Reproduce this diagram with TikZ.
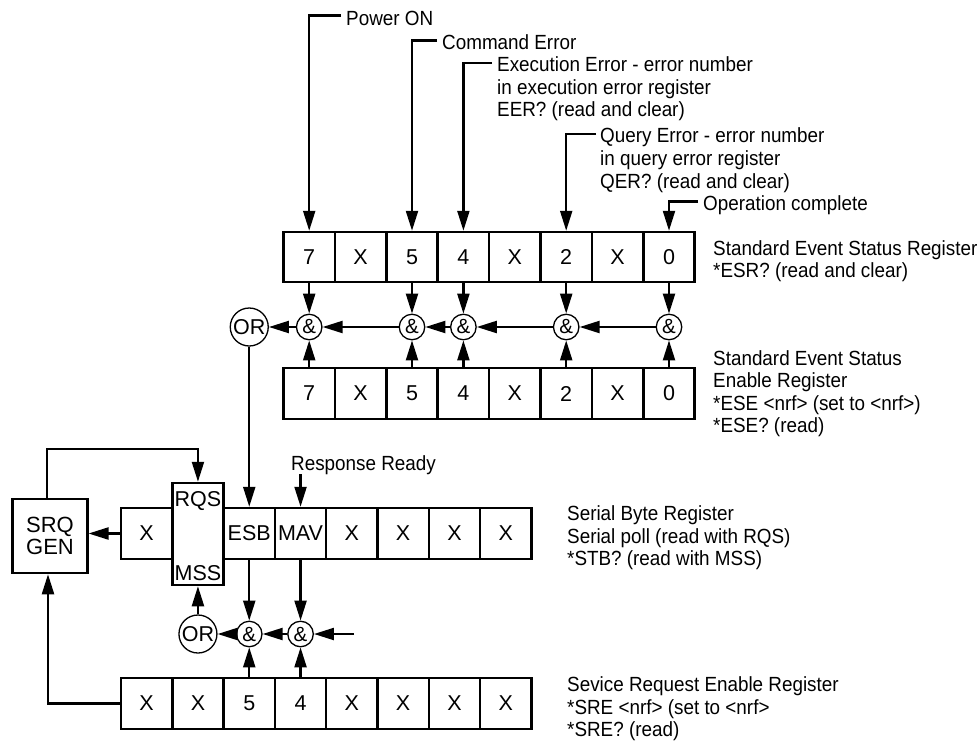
\documentclass[tikz,border=0pt]{standalone}
\usepackage{fontspec}
\setmainfont{Liberation Sans}
\newfontfamily\lblfont[FakeStretch=0.92]{Liberation Sans}
\usetikzlibrary{arrows.meta,calc}
\begin{document}
\begin{tikzpicture}[x=1pt,y=-1pt,
  cell/.style={draw, line width=2.5pt, minimum width=51.4pt, minimum height=51pt, inner sep=0pt, font=\fontsize{21.5}{22}\selectfont},
  scell/.style={cell, minimum width=51.3pt},
  tallbox/.style={draw, line width=2.5pt, minimum width=51.3pt, minimum height=102pt, inner sep=0pt},
  boxtxt/.style={inner sep=0pt, font=\fontsize{21.5}{22}\selectfont},
  gate/.style={draw, circle, line width=1.3pt, minimum size=25.5pt, inner sep=0pt, font=\fontsize{20.5}{20}\selectfont},
  orgate/.style={draw, circle, line width=1.3pt, minimum size=38pt, inner sep=0pt, font=\fontsize{21.5}{22}\selectfont},
  srqbox/.style={draw, line width=2.5pt, minimum width=74.6pt, minimum height=74pt, inner sep=0pt, align=center, font=\fontsize{22}{22}\selectfont},
  arr/.style={line width=2.2pt, -{Triangle[length=20pt,width=12pt]}},
  lbl/.style={anchor=base west, inner sep=0pt, font=\lblfont\fontsize{20.5}{22.5}\selectfont},
]
\useasboundingbox (0,0) rectangle (980,742);

% Standard Event Status Register
\foreach \t [count=\i from 0] in {7,X,5,4,X,2,X,0}
  \node[cell, minimum height=50pt] (e\i) at ({309.2+\i*51.4},257) {\t};
% Standard Event Status Enable Register
\foreach \t [count=\i from 0] in {7,X,5,4,X,2,X,0}
  \node[cell] (n\i) at ({309.2+\i*51.4},393.5) {\t};
% AND gates (upper)
\foreach \i in {0,2,3,5,7}
  \node[gate] (a\i) at ({309.2+\i*51.4},327) {\&};
\node[orgate] (or1) at (249.25,327) {OR};

% Serial Byte Register
\node[scell] (s0) at (146.65,533.5) {X};
\node[tallbox] (rqs) at (197.95,534) {};
\node[boxtxt, anchor=base] at ([yshift=-25pt]rqs.north) {RQS};
\node[boxtxt, anchor=base] at ([yshift=6pt]rqs.south) {MSS};
\node[scell] (esb) at (249.25,533.5) {ESB};
\node[scell] (mav) at (300.55,533.5) {MAV};
\foreach \i in {4,5,6,7}
  \node[scell] (s\i) at ({146.65+\i*51.3},533.5) {X};

% Service Request Enable Register
\foreach \t [count=\i from 0] in {X,X,5,4,X,X,X,X}
  \node[scell] (r\i) at ({146.65+\i*51.3},703.5) {\t};

% lower gates
\node[gate] (b2) at (249.25,634) {\&};
\node[gate] (b3) at (300.55,634) {\&};
\node[orgate] (or2) at (197.95,634) {OR};

% SRQ GEN
\node[srqbox] (srq) at (50,536) {SRQ\\GEN};

% top labels
\node[lbl] (pw) at (346,25) {Power ON};
\node[lbl] (ce) at (442,49) {Command Error};
\node[lbl] (ee1) at (497,71.7) {Execution Error - error number};
\node[lbl] (ee2) at (497,94.3) {in execution error register};
\node[lbl] (ee3) at (497,116.7) {EER? (read and clear)};
\node[lbl] (qe1) at (600,142.7) {Query Error - error number};
\node[lbl] (qe2) at (600,165.3) {in query error register};
\node[lbl] (qe3) at (600,188) {QER? (read and clear)};
\node[lbl] (oc) at (703,210) {Operation complete};

% right labels
\node[lbl] (esr1) at (713,255) {Standard Event Status Register};
\node[lbl] (esr2) at (713,277.5) {*ESR? (read and clear)};
\node[lbl] (ese1) at (713,365.5) {Standard Event Status};
\node[lbl] (ese2) at (713,387.8) {Enable Register};
\node[lbl] (ese3) at (713,410) {*ESE <nrf> (set to <nrf>)};
\node[lbl] (ese4) at (713,432.3) {*ESE? (read)};
\node[lbl] (sb1) at (567,520.7) {Serial Byte Register};
\node[lbl] (sb2) at (567,543.2) {Serial poll (read with RQS)};
\node[lbl] (sb3) at (567,565.7) {*STB? (read with MSS)};
\node[lbl] (sr1) at (567,691.7) {Sevice Request Enable Register};
\node[lbl] (sr2) at (567,714.2) {*SRE <nrf> (set to <nrf>};
\node[lbl] (sr3) at (567,736.5) {*SRE? (read)};
\node[lbl] (rr) at (291,470) {Response Ready};

% top connectors
\draw[arr] ([xshift=-5pt,yshift=9.5pt]pw.base west) -| (e0.north);
\draw[arr] ([xshift=-5pt,yshift=8.5pt]ce.base west) -| (e2.north);
\draw[arr] ([xshift=-5pt,yshift=9pt]ee1.base west) -| (e3.north);
\draw[arr] ([xshift=-4pt,yshift=8.7pt]qe1.base west) -| (e5.north);
\draw[arr] ([xshift=-5pt,yshift=8.5pt]oc.base west) -| (e7.north);

% upper AND/OR network
\foreach \i in {0,2,3,5,7} {
  \draw[arr] (e\i.south) -- (a\i.north);
  \draw[arr] (n\i.north) -- (a\i.south);
}
\draw[arr] (a7) -- (a5);
\draw[arr] (a5) -- (a3);
\draw[arr] (a3) -- (a2);
\draw[arr] (a2) -- (a0);
\draw[arr] (a0) -- (or1);
\draw[arr] (or1.south) -- (esb.north);

% response ready
\draw[arr] ([yshift=-4pt]mav.north |- rr.base) -- (mav.north);

% lower AND/OR network
\draw[arr] (esb.south) -- (b2.north);
\draw[arr] (mav.south) -- (b3.north);
\draw[arr] (r2.north) -- (b2.south);
\draw[arr] (r3.north) -- (b3.south);
\coordinate (inb) at (354,634);
\draw[arr] (inb) -- (b3);
\draw[arr] (b3) -- (b2);
\draw[arr] (b2) -- (or2);
\draw[arr] (or2.north) -- (rqs.south);

% SRQ connections
\draw[arr] (s0.west) -- (s0.west -| srq.east);
\draw[arr] ([xshift=-3pt]srq.north) -- ++(0,-49) -| (rqs.north);
\draw[arr] (r0.west) -| ([xshift=-2pt]srq.south);
\end{tikzpicture}
\end{document}
